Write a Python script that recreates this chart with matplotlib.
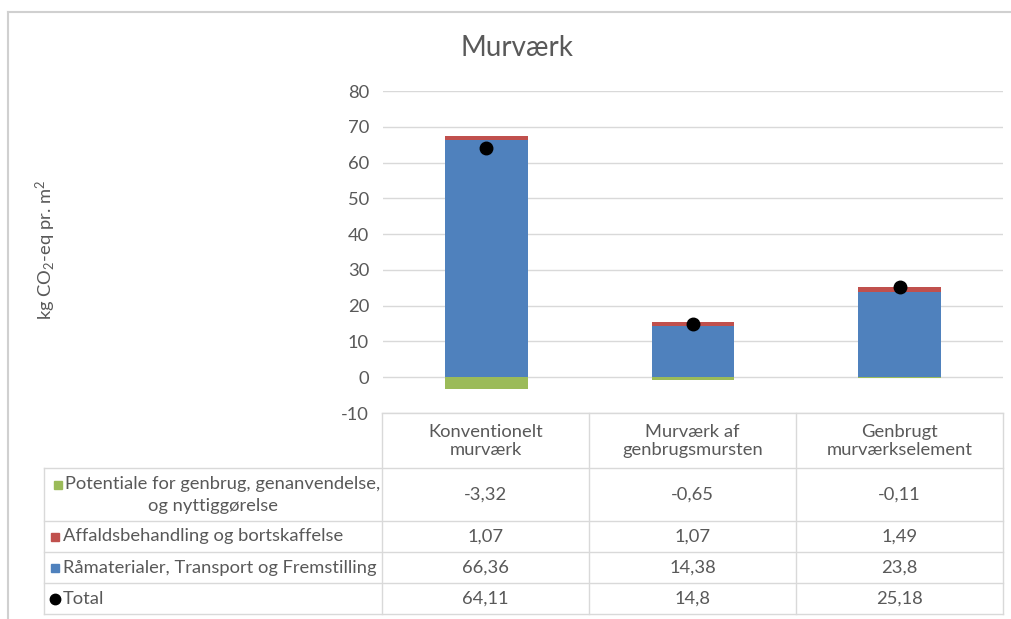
import numpy as np
import matplotlib
matplotlib.use('Agg')
import matplotlib.pyplot as plt
from matplotlib.lines import Line2D
from matplotlib.patches import Rectangle

plt.rcParams['font.family'] = ['Lato', 'DejaVu Sans']
plt.rcParams['mathtext.fontset'] = 'custom'
plt.rcParams['mathtext.rm'] = 'Lato'
plt.rcParams['mathtext.it'] = 'Lato:italic'
plt.rcParams['axes.unicode_minus'] = False

categories = ['Konventionelt\nmurværk', 'Murværk af\ngenbrugsmursten', 'Genbrugt\nmurværkselement']
genbrug = [-3.32, -0.65, -0.11]
affald = [1.07, 1.07, 1.49]
raamat = [66.36, 14.38, 23.8]
total = [64.11, 14.8, 25.18]

series_names = ['Potentiale for genbrug, genanvendelse,\nog nyttiggørelse',
                'Affaldsbehandling og bortskaffelse',
                'Råmaterialer, Transport og Fremstilling',
                'Total']

c_green = '#9BBB59'
c_red = '#C0504D'
c_blue = '#4F81BD'
txt = '#595959'
grid = '#D9D9D9'
fs = 13.2

W, H = 1011, 619
fig = plt.figure(figsize=(W / 100, H / 100), dpi=100)

def fx(px):
    return px / W

def fy(py):
    return 1 - py / H

# outer frame
fig.add_artist(Line2D([fx(8), fx(1011)], [fy(12), fy(12)], color='#D0D0D0', lw=1.5))
fig.add_artist(Line2D([fx(8), fx(8)], [fy(12), fy(619)], color='#D0D0D0', lw=1.5))

ax = fig.add_axes([fx(383), fy(413), (1003 - 383) / W, (413 - 91) / H])
x = np.arange(len(categories))
bw = 0.4
ax.bar(x, raamat, bw, color=c_blue, zorder=2)
ax.bar(x, affald, bw, bottom=raamat, color=c_red, zorder=2)
ax.bar(x, genbrug, bw, color=c_green, zorder=2)
ax.plot(x, total, 'o', color='black', ms=9, zorder=3)

ax.set_xlim(-0.5, 2.5)
ax.set_ylim(-10, 80)
ax.set_yticks(np.arange(-10, 81, 10))
ax.set_xticks([])
ax.grid(axis='y', color=grid, lw=1, zorder=0)
for s in ax.spines.values():
    s.set_visible(False)
ax.tick_params(axis='y', length=0, pad=10, labelsize=fs, labelcolor=txt)

fig.text(fx(517), fy(48), 'Murværk', ha='center', va='center', fontsize=20, color=txt)
fig.text(fx(46), fy(250), 'kg CO$_2$-eq pr. m$^2$', rotation=90, ha='center', va='center',
         fontsize=fs, color=txt)

# data table
lc = '#D9D9D9'
col_x = [382, 589, 796, 1003]
row_y = [413, 468, 521, 552, 583, 614]
for py in row_y:
    x0 = 382 if py == 413 else 44
    fig.add_artist(Line2D([fx(x0), fx(1003)], [fy(py), fy(py)], color=lc, lw=1))
for px in col_x:
    fig.add_artist(Line2D([fx(px), fx(px)], [fy(413), fy(614)], color=lc, lw=1))
fig.add_artist(Line2D([fx(44), fx(44)], [fy(468), fy(614)], color=lc, lw=1))

for i, cat in enumerate(categories):
    cx = (col_x[i] + col_x[i + 1]) / 2
    fig.text(fx(cx), fy(441), cat, ha='center', va='center', fontsize=fs,
             color=txt, linespacing=1.2)

rows = [genbrug, affald, raamat, total]
colors = [c_green, c_red, c_blue, 'black']
for r, (name, vals, col) in enumerate(zip(series_names, rows, colors)):
    cy = (row_y[r + 1] + row_y[r + 2]) / 2
    if r == 0:
        first, second = name.split('\n')
        fig.text(fx(65), fy(cy - 10), first, ha='left', va='center', fontsize=fs, color=txt)
        fig.text(fx(213), fy(cy + 12), second, ha='center', va='center', fontsize=fs, color=txt)
        my = cy - 10
        mx = 54
    else:
        fig.text(fx(63), fy(cy), name, ha='left', va='center', fontsize=fs, color=txt)
        my = cy
        mx = 51
    if r < 3:
        fig.add_artist(Rectangle((fx(mx), fy(my + 4)), 7.5 / W, 7.5 / H, color=col,
                                 transform=fig.transFigure))
    else:
        fig.add_artist(Line2D([fx(mx + 4)], [fy(my)], marker='o', ms=7.5, color='black'))
    for i, v in enumerate(vals):
        cx = (col_x[i] + col_x[i + 1]) / 2
        fig.text(fx(cx), fy(cy), str(v).replace('.', ','), ha='center', va='center',
                 fontsize=fs, color=txt)

fig.savefig('out.png', dpi=100)
